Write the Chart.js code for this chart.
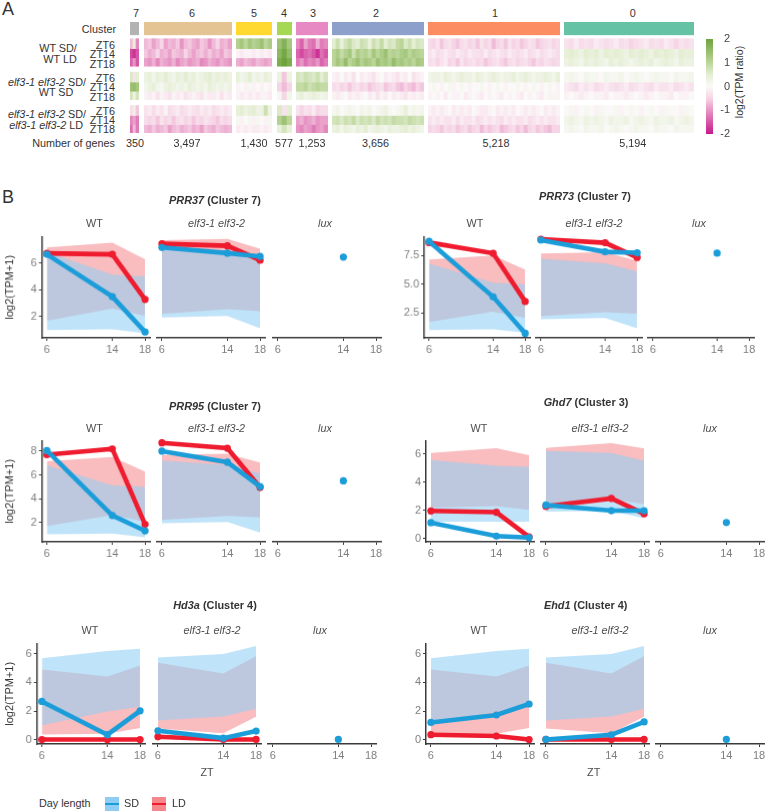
<!DOCTYPE html>
<html>
<head>
<meta charset="utf-8">
<script src="https://cdn.jsdelivr.net/npm/chart.js@4"></script>
<style>
html, body { margin: 0; padding: 0; background: #fff; }
body { position: relative; width: 766px; height: 812px; overflow: hidden; font-family: "Liberation Sans", Arial, sans-serif; }
canvas { position: absolute; }
.txt { position: absolute; white-space: nowrap; color: #333; line-height: 1; }
</style>
</head>
<body>
<script>
// ---- panel A, heatmap values, log2(TPM ratio)
// rows: WT ZT6/14/18, elf3 vs WT ZT6/14/18, elf3 SD vs LD ZT6/14/18
const cluster7 = [
  [-.7, .4, -1.1], [-1.6, -1.8, -1.5], [-1.4, -1, -1.5],
  [.6, -.3, .5], [1.4, 1.5, 1.3], [.7, .3, .7],
  [-.4, .3, -.6], [-1.1, -.9, -1.2], [-1.3, -.7, -1.2]
]
const cluster6 = [
  [-.7,-.6,-.9,-.7,-.5,-.9,-.7,-.8,-.6,-1,-.7,-.6,-.8,-.9,-.6,-.7,-1,-.7,-.5,-.8,-.7,-.9],
  [-.6,-.8,-.7,-.5,-.8,-.7,-.9,-.6,-.7,-.8,-.5,-.7,-.9,-.7,-.6,-.8,-.6,-.8,-.7,-.9,-.6,-.7],
  [-.9,-1,-.8,-1.1,-.8,-.9,-1,-.8,-1.1,-.9,-.8,-1,-.9,-.8,-1.1,-1,-.8,-.9,-1,-.8,-.9,-1],
  [.3,.4,.2,.4,.3,.5,.3,.2,.4,.3,.5,.3,.4,.2,.3,.4,.5,.3,.4,.3,.4,.3],
  [.2,.3,.4,.2,.1,.3,.4,.3,.2,.3,.2,.4,.3,.2,.3,.2,.4,.3,.2,.3,.2,.3],
  [-.1,-.2,-.1,-.3,-.1,-.2,-.3,-.1,-.2,-.1,-.3,-.2,-.1,-.2,-.3,-.1,-.2,-.2,-.1,-.3,-.1,-.2],
  [-.3,-.2,-.4,-.2,-.3,-.1,-.4,-.3,-.2,-.4,-.3,-.2,-.3,-.4,-.2,-.3,-.2,-.4,-.3,-.2,-.3,-.2],
  [-.4,-.5,-.4,-.6,-.3,-.5,-.4,-.6,-.4,-.3,-.5,-.4,-.6,-.4,-.5,-.3,-.4,-.5,-.6,-.4,-.5,-.4],
  [-.7,-.8,-.6,-.8,-.7,-.6,-.9,-.7,-.6,-.8,-.7,-.6,-.8,-.7,-.9,-.6,-.7,-.8,-.6,-.7,-.8,-.7]
]
const cluster5 = [
  [1.1,1.3,1,1.3,1.1,1.2,1.4,1,1.2],
  [-.1,-.2,-.1,-.1,-.2,-.1,-.2,-.1,-.2],
  [-.8,-.9,-.7,-.8,-.9,-.7,-.8,-.9,-.8],
  [.4,.2,.3,.5,.2,.3,.2,.4,.3],
  [-.1,0,-.1,.1,-.1,0,-.1,0,-.1],
  [-.1,-.2,-.1,-.2,-.1,-.2,-.1,-.1,-.2],
  [.4,.5,.3,.4,.5,.3,.3,.8,.3],
  [.1,-.1,0,.1,-.1,.1,0,-.1,.1],
  [-.2,-.1,-.2,-.1,-.2,-.2,-.1,-.2,-.1]
]
const cluster4 = [
  [1.4, 1.7, 1.3], [1.6, 1.9, 1.5], [1.8, 2, 1.8],
  [.3, -.6, .3], [-.5, -.7, -.5], [.1, -.5, .2],
  [.6, -.3, .5], [1.1, 1.4, 1], [.4, .7, .4]
]
const cluster3 = [
  [-1.1,-1.4,-.9,-1.2,-1.3,-.8,-1.2,-1.1],
  [-1.4,-1.6,-1.4,-1.3,-1.5,-1.8,-1.3,-1.5],
  [-1.2,-1,-1.3,-1.1,-1.2,-1,-1.4,-1.2],
  [.7,.6,.8,.7,.6,.8,.5,.7],
  [.9,.9,1,.8,.9,1,.9,.9],
  [.3,.4,.2,.3,.4,.3,.2,.3],
  [-.3,-.5,-.3,-.4,-.2,-.5,-.4,-.4],
  [-.9,-.8,-1,-.9,-.8,-1,-.9,-.9],
  [-1,-1.1,-.9,-1,-1.2,-1,-.9,-1.1]
]
const cluster2 = [
  [.5,.8,.4,.7,.9,.6,.5,.8,.7,.4,.8,.6,.9,.5,.7,.6,.9,1,.6,.8,.5,.7,.6],
  [1,1.2,.9,1.1,1.3,.8,1.2,1,1.1,.9,1.3,1,1.2,1.4,1,1.1,1,1.2,1.3,1,1.2,1.1,1],
  [1,1.3,1.1,1.5,1,1.2,1.4,1.1,1.3,1.2,1,1.4,1.2,1.3,1.1,1.5,1.2,1.3,1.1,1.2,1,1.3,1.2],
  [-.1,-.2,0,-.2,-.1,-.3,0,-.2,-.1,-.2,-.3,-.1,0,-.2,-.1,-.2,-.3,-.1,-.2,0,-.3,-.2,-.1],
  [-.4,-.3,-.5,-.4,-.6,-.4,-.3,-.5,-.4,-.6,-.5,-.4,-.3,-.6,-.5,-.4,-.6,-.7,-.5,-.6,-.7,-.5,-.6],
  [-.1,-.2,-.1,0,-.2,-.1,-.2,-.1,0,-.2,-.1,-.3,-.1,-.2,0,-.2,-.1,-.2,-.3,-.1,-.2,-.1,-.2],
  [.1,.2,0,.1,.2,.1,0,.2,.1,.2,0,.1,.2,.3,.1,0,.1,.2,.4,.1,.2,.1,.2],
  [.7,.8,.6,.8,.7,.9,.6,.8,.7,.8,.6,.9,.7,.8,.7,.9,.8,.8,.7,.9,.8,.7,.8],
  [.3,.4,.2,.4,.3,.2,.4,.3,.5,.2,.3,.4,.3,.2,.4,.3,.3,.4,.5,.3,.4,.3,.2]
]
const cluster1 = [
  [-.4,-.5,-.3,-.6,-.4,-.3,-.5,-.6,-.4,-.3,-.5,-.4,-.6,-.3,-.5,-.4,-.7,-.5,-.4,-.6,-.3,-.5,-.4,-.6,-.5,-.3,-.4,-.6,-.5,-.4,-.3,-.5,-.4],
  [-.3,-.2,-.4,-.3,-.2,-.3,-.4,-.2,-.3,-.4,-.2,-.3,-.3,-.4,-.2,-.4,-.3,-.2,-.3,-.4,-.2,-.3,-.4,-.3,-.2,-.4,-.3,-.2,-.4,-.3,-.2,-.3,-.4],
  [-.4,-.3,-.5,-.3,-.2,-.5,-.4,-.6,-.3,-.5,-.4,-.3,-.5,-.4,-.6,-.5,-.4,-.3,-.5,-.6,-.4,-.3,-.5,-.4,-.3,-.5,-.6,-.4,-.5,-.3,-.4,-.5,-.4],
  [.2,.3,.3,.2,.4,.3,.2,.3,.4,.3,.3,.2,.4,.3,.2,.3,.4,.3,.2,.3,.3,.4,.2,.3,.4,.3,.2,.3,.3,.4,.3,.2,.4],
  [0,.1,0,-.1,0,.1,-.1,0,.1,0,-.1,0,0,.1,0,-.1,0,.1,0,-.1,0,0,.1,0,-.1,0,.1,0,-.1,0,.1,0,-.1],
  [-.1,0,-.1,0,-.2,0,-.1,-.1,0,-.2,-.1,0,-.1,-.2,0,-.1,0,-.1,-.2,0,-.1,0,-.1,-.2,0,-.1,0,-.1,-.2,0,-.1,.1,-.1],
  [-.1,-.2,-.1,-.2,-.1,0,-.2,-.1,-.2,-.1,-.2,0,-.1,-.2,-.2,-.1,0,-.2,-.1,-.2,-.1,-.2,0,-.1,-.2,-.1,-.2,-.1,0,-.2,-.1,-.2,-.1],
  [-.3,-.2,-.3,-.2,-.3,-.3,-.2,-.4,-.2,-.3,-.3,-.2,-.4,-.3,-.2,-.3,-.2,-.3,-.4,-.2,-.3,-.2,-.3,-.3,-.2,-.4,-.3,-.2,-.3,-.2,-.3,-.3,-.2],
  [-.5,-.4,-.5,-.6,-.4,-.5,-.4,-.6,-.5,-.4,-.6,-.5,-.4,-.7,-.5,-.6,-.5,-.4,-.7,-.6,-.5,-.4,-.6,-.5,-.7,-.5,-.4,-.6,-.5,-.6,-.7,-.5,-.5]
]
const cluster0 = [
  [-.3,-.4,-.2,-.4,-.3,-.4,-.2,-.3,-.4,-.3,-.2,-.4,-.3,-.5,-.4,-.3,-.2,-.4,-.3,-.4,-.2,-.3,-.5,-.3,-.4,-.3],
  [.4,.5,.4,.3,.5,.4,.5,.3,.5,.4,.5,.4,.3,.5,.4,.5,.4,.3,.5,.4,.5,.4,.3,.5,.4,.4],
  [.3,.4,.3,.2,.4,.3,.4,.3,.2,.4,.3,.4,.3,.2,.3,.4,.3,.4,.2,.3,.4,.3,.2,.4,.3,.3],
  [.1,.2,.1,0,.2,.1,.1,0,.2,.1,.1,.2,0,.1,.2,.1,0,.1,.2,.1,.1,0,.2,.1,.1,.2],
  [-.2,-.3,-.4,-.2,-.3,-.2,-.4,-.3,-.2,-.3,-.4,-.3,-.2,-.4,-.3,-.2,-.3,-.4,-.2,-.3,-.3,-.2,-.4,-.3,-.2,-.3],
  [-.1,0,-.1,-.2,-.1,0,-.1,-.1,-.2,0,-.1,-.1,-.2,-.1,0,-.1,-.2,-.1,0,-.1,-.1,-.2,0,-.1,-.1,0],
  [0,.1,-.1,0,.1,0,-.1,.1,0,0,.1,-.1,0,.1,0,-.1,0,.1,0,-.1,.1,0,0,-.1,.1,0],
  [.2,.3,.2,.1,.3,.2,.3,.2,.1,.3,.2,.2,.3,.1,.2,.3,.2,.1,.3,.2,.2,.3,.1,.2,.3,.2],
  [.1,.2,.1,0,.2,.1,.1,.2,0,.1,.2,.1,0,.1,.2,.1,.1,0,.2,.1,.1,0,.2,.1,.1,.1]
]
const clusterColors = ['#b3b3b3', '#e5c494', '#ffd92f', '#a6d854', '#e78ac3', '#8da0cb', '#fc8d62', '#66c2a5']
const clusterNames = ['7', '6', '5', '4', '3', '2', '1', '0']
const geneCounts = ['350', '3,497', '1,430', '577', '1,253', '3,656', '5,218', '5,194']

// ---- panel B, shaded ribbons (same per cluster, x is ZT)
const ztPoints = [6, 14, 18]
const ztTicks = [6, 14, 18]
const luxZt = [14]

const c7_wt_ld_low = [1.7, 2.6, 2.05]
const c7_wt_ld_high = [7.15, 7.5, 6.27]
const c7_wt_sd_low = [1, 1.05, .75]
const c7_wt_sd_high = [6.8, 5.12, 4.98]
const c7_elf_ld_low = [2.15, 2.5, 2.36]
const c7_elf_ld_high = [7.5, 7.6, 6.88]
const c7_elf_sd_low = [1.9, 2, 1.12]
const c7_elf_sd_high = [7.05, 6.67, 5.97]

const c3_wt_ld_low = [2.2, 2.3, 2.03]
const c3_wt_ld_high = [6.07, 6.4, 5.91]
const c3_wt_sd_low = [1.2, 1.2, 1.2]
const c3_wt_sd_high = [5.57, 5.15, 5.08]
const c3_elf_ld_low = [2.2, 2.75, 2.35]
const c3_elf_ld_high = [6.26, 6.58, 6.21]
const c3_elf_sd_low = [1.85, 1.9, 1.4]
const c3_elf_sd_high = [6.05, 5.91, 5.36]

const c4_wt_ld_low = [.36, .4, .81]
const c4_wt_ld_high = [4.91, 4.41, 5.18]
const c4_wt_sd_low = [1, 1.97, 2.29]
const c4_wt_sd_high = [5.7, 6.2, 6.36]
const c4_elf_ld_low = [.75, .43, 1.56]
const c4_elf_ld_high = [5.23, 4.5, 5.68]
const c4_elf_sd_low = [1.3, 1.56, 2.1]
const c4_elf_sd_high = [5.6, 5.84, 6.38]

// ---- panel B, gene lines
const prr37_wt_ld = [6.7, 6.63, 3.28]
const prr37_wt_sd = [6.63, 3.48, .86]
const prr37_elf_ld = [7.24, 7.09, 6.05]
const prr37_elf_sd = [6.97, 6.56, 6.32]
const prr37_lux = [6.27]

const prr73_wt_ld = [8.64, 7.7, 3.49]
const prr73_wt_sd = [8.75, 3.89, .71]
const prr73_elf_ld = [8.72, 8.41, 7.16]
const prr73_elf_sd = [8.64, 7.64, 7.56]
const prr73_lux = [7.53]

const prr95_wt_ld = [7.7, 8.19, 1.84]
const prr95_wt_sd = [8.05, 2.58, 1.29]
const prr95_elf_ld = [8.49, 8.05, 4.82]
const prr95_elf_sd = [7.81, 6.9, 4.9]
const prr95_lux = [5.37]

const ghd7_wt_ld = [1.96, 1.87, .12]
const ghd7_wt_sd = [1.13, .18, .07]
const ghd7_elf_ld = [2.22, 2.77, 1.71]
const ghd7_elf_sd = [2.31, 1.92, 1.92]
const ghd7_lux = [1.1]

const hd3a_wt_ld = [0, 0, 0]
const hd3a_wt_sd = [2.67, .34, 2.01]
const hd3a_elf_ld = [.18, 0, 0]
const hd3a_elf_sd = [.59, .09, .57]
const hd3a_lux = [0]

const ehd1_wt_ld = [.34, .25, 0]
const ehd1_wt_sd = [1.2, 1.72, 2.49]
const ehd1_elf_ld = [0, 0, 0]
const ehd1_elf_sd = [0, .32, 1.2]
const ehd1_lux = [0]

const ticks_2468 = [2, 4, 6, 8]
const ticks_246 = [2, 4, 6]
const ticks_0246 = [0, 2, 4, 6]
const ticks_prr73 = [2.5, 5, 7.5]

const SD_COLOR = '#1b9dd9'
const LD_COLOR = '#ee1c2e'
const SD_RIBBON = 'rgba(148,208,243,0.6)'
const LD_RIBBON = '#f9bcbf'
const TICK_GREY = '#7f7f7f'
const FONT = '"Liberation Sans", Arial, sans-serif'
const TEXT_SIZE = 10.8
const TICK_SIZE = 11
const LINE_W = 4.6
const POINT_R = 3.6

Chart.defaults.font.family = FONT
Chart.defaults.animation = false

const label = (html, x, y, opts = {}) => {
    const el = document.createElement('div')
    el.className = 'txt'
    el.innerHTML = html
    el.style.left = x + 'px'
    el.style.top = y + 'px'
    el.style.fontSize = (opts.size || TEXT_SIZE) + 'px'
    el.style.color = opts.color || '#333'
    if (opts.bold) el.style.fontWeight = 'bold'
    const tx = opts.align == 'right' ? '-100%' : (opts.align == 'left' ? '0' : '-50%')
    el.style.transform = `translate(${tx}, -50%)` + (opts.rotate ? ` rotate(${opts.rotate}deg)` : '')
    document.body.appendChild(el)
}

const makeCanvas = (x, y, w, h) => {
    const canvas = document.createElement('canvas')
    canvas.width = w
    canvas.height = h
    canvas.style.left = x + 'px'
    canvas.style.top = y + 'px'
    canvas.style.width = w + 'px'
    canvas.style.height = h + 'px'
    document.body.appendChild(canvas)
    return canvas.getContext('2d')
}

// ---- heatmap colours
const heatStops = [
    [-2, [198, 25, 138]], [-1, [231, 149, 196]], [-.5, [246, 213, 230]], [0, [251, 249, 248]],
    [.5, [228, 238, 211]], [1, [188, 214, 154]], [2, [110, 163, 60]]
]
const heatColor = (v) => {
    for (let i = 1; i < heatStops.length; i++) {
        if (v <= heatStops[i][0]) {
            const [a, ca] = heatStops[i - 1]
            const [b, cb] = heatStops[i]
            const t = Math.max(0, (v - a) / (b - a))
            return `rgb(${ca.map((c, k) => Math.round(c + (cb[k] - c) * t)).join(',')})`
        }
    }
    return 'rgb(110,163,60)'
}

// row layout in units of one heat row
const BAND_H = 1.4, BAND_GAP = .43, GROUP_GAP = .65
const TOTAL_ROWS = BAND_H + BAND_GAP + 9 + 2 * GROUP_GAP

const heatCluster = (values, idx, left, colW) => {
    const cols = values[0].length
    const ctx = makeCanvas(left, 22, cols * colW, 111)
    const colLabels = values[0].map((v, i) => i)
    const datasets = [{
        data: colLabels.map(() => [0, BAND_H]),
        backgroundColor: clusterColors[idx]
    }]
    values.forEach((row, r) => {
        const group = Math.floor(r / 3)
        const start = BAND_H + BAND_GAP + group * (3 + GROUP_GAP) + (r - group * 3)
        // small overlap so no pale seam shows between rows of one group
        const end = start + (r % 3 == 2 ? 1 : 1.08)
        datasets.push({
            data: row.map(() => [start, end]),
            backgroundColor: row.map(heatColor)
        })
    })
    new Chart(ctx, {
        type: 'bar',
        data: { labels: colLabels, datasets: datasets },
        options: {
            responsive: false,
            layout: { padding: 0 },
            datasets: { bar: { grouped: false, barPercentage: 1, categoryPercentage: 1, borderWidth: 0 } },
            plugins: { legend: { display: false }, tooltip: { enabled: false } },
            scales: {
                x: { display: false },
                y: { display: false, reverse: true, min: 0, max: TOTAL_ROWS }
            }
        }
    })
}

heatCluster(cluster7, 0, 130, 3)
heatCluster(cluster6, 1, 144, 4)
heatCluster(cluster5, 2, 236, 4)
heatCluster(cluster4, 3, 277, 5)
heatCluster(cluster3, 4, 296, 4)
heatCluster(cluster2, 5, 332, 4)
heatCluster(cluster1, 6, 428, 4)
heatCluster(cluster0, 7, 564, 5)

// ---- colour bar
const colorbarTicks = [-2, -1, 0, 1, 2]
new Chart(makeCanvas(700, 31, 30, 114), {
    type: 'bar',
    data: {
        labels: ['scale'],
        datasets: [{
            data: [[-2, 2]],
            backgroundColor: (c) => {
                const area = c.chart.chartArea
                if (!area) return '#fff'
                const g = c.chart.ctx.createLinearGradient(0, area.bottom, 0, area.top)
                heatStops.forEach(s => g.addColorStop((s[0] + 2) / 4, `rgb(${s[1].join(',')})`))
                return g
            }
        }]
    },
    options: {
        responsive: false,
        layout: { padding: { left: 6, top: 8, bottom: 11 } },
        datasets: { bar: { barPercentage: 1, categoryPercentage: 1 } },
        plugins: { legend: { display: false }, tooltip: { enabled: false } },
        scales: {
            x: { display: false },
            y: {
                position: 'right', min: -2, max: 2,
                afterBuildTicks: (a) => { a.ticks = colorbarTicks.map(v => ({ value: v })) },
                afterFit: (s) => { s.width = 17 },
                grid: { display: false, drawTicks: false },
                border: { display: false },
                ticks: { color: '#444', font: { size: TICK_SIZE }, padding: 1, crossAlign: 'far' }
            }
        }
    }
})

// ---- panel B facets
const facet = (o) => {
    const pad = 8
    const hasY = !!o.showY
    const cLeft = hasY ? o.canvasLeft : o.axisLeft - pad
    const yw = hasY ? o.axisLeft - o.canvasLeft : 0
    const cTop = o.top - 6
    const areaW = o.axisW
    const w = (hasY ? yw : pad) + areaW + 10
    const h = (o.bottom - o.top) + 6 + 20
    const toPts = (xs, ys) => xs.map((x, i) => ({ x: x, y: ys[i] }))
    const datasets = []
    if (o.ribbon) {
        const r = o.ribbon
        const ribbon = (low, high, fillColor, order) => {
            const base = datasets.length
            datasets.push({ data: toPts(ztPoints, low), borderWidth: 0, pointRadius: 0, fill: false, order: order })
            datasets.push({ data: toPts(ztPoints, high), borderWidth: 0, pointRadius: 0, fill: base, backgroundColor: fillColor, order: order })
        }
        ribbon(r[0], r[1], LD_RIBBON, 4)
        ribbon(r[2], r[3], SD_RIBBON, 3)
        datasets.push({ data: toPts(ztPoints, o.ld), borderColor: LD_COLOR, backgroundColor: LD_COLOR, borderWidth: LINE_W, pointRadius: POINT_R, pointBorderWidth: 0, order: 2, clip: false })
        datasets.push({ data: toPts(ztPoints, o.sd), borderColor: SD_COLOR, backgroundColor: SD_COLOR, borderWidth: LINE_W, pointRadius: POINT_R, pointBorderWidth: 0, order: 1, clip: false })
    } else {
        datasets.push({ data: toPts(luxZt, o.lux), borderColor: SD_COLOR, backgroundColor: SD_COLOR, showLine: false, pointRadius: POINT_R, pointBorderWidth: 0, clip: false })
    }
    const axisLine = { display: true, color: '#3a3a3a', width: 1.5 }
    new Chart(makeCanvas(cLeft, cTop, w, h), {
        type: 'line',
        data: { datasets: datasets },
        options: {
            responsive: false,
            layout: { padding: { left: hasY ? 0 : pad, right: 10, top: 6, bottom: 0 } },
            elements: { line: { tension: 0 } },
            plugins: { legend: { display: false }, tooltip: { enabled: false } },
            scales: {
                x: {
                    type: 'linear', min: 5.4, max: 18.6,
                    afterBuildTicks: (a) => { a.ticks = ztTicks.map(v => ({ value: v })) },
                    afterFit: (s) => { s.height = 20 },
                    grid: { drawOnChartArea: false, tickLength: 3, tickColor: '#3a3a3a' },
                    border: axisLine,
                    ticks: { color: TICK_GREY, font: { size: TICK_SIZE }, padding: 2, autoSkip: false, maxRotation: 0 }
                },
                y: {
                    display: hasY, min: o.yMin, max: o.yMax,
                    afterBuildTicks: (a) => { a.ticks = o.yTicks.map(v => ({ value: v })) },
                    afterFit: (s) => { s.width = yw },
                    grid: { drawOnChartArea: false, tickLength: 3, tickColor: '#3a3a3a' },
                    border: axisLine,
                    title: { display: !!o.yTitle, text: 'log2(TPM+1)', color: '#333', font: { size: 11 }, padding: { top: 3, bottom: 2 } },
                    ticks: {
                        color: TICK_GREY, font: { size: TICK_SIZE }, padding: 2,
                        callback: (v) => o.yTicks.some(t => t % 1) ? v.toFixed(1) : v
                    }
                }
            }
        }
    })
}

const genePanel = (o) => {
    o.axisLefts.forEach((axisLeft, i) => {
        const base = {
            axisLeft: axisLeft, axisW: o.axisW, top: o.top, bottom: o.bottom,
            yMin: o.yMin, yMax: o.yMax, yTicks: o.yTicks
        }
        if (i == 0) facet({ ...base, showY: true, yTitle: o.yTitle, canvasLeft: o.yTitle ? 0 : axisLeft - 36, ribbon: o.wtRibbon, ld: o.wtLd, sd: o.wtSd })
        if (i == 1) facet({ ...base, ribbon: o.elfRibbon, ld: o.elfLd, sd: o.elfSd })
        if (i == 2) facet({ ...base, lux: o.lux })
    })
    label(o.title, o.titleX, o.titleY, { size: 10.9, bold: true })
    label('WT', o.facetX[0], o.facetY, { color: '#4d4d4d' })
    label('<i>elf3-1 elf3-2</i>', o.facetX[1], o.facetY, { color: '#4d4d4d' })
    label('<i>lux</i>', o.facetX[2], o.facetY, { color: '#4d4d4d' })
}

const ribbon7wt = [c7_wt_ld_low, c7_wt_ld_high, c7_wt_sd_low, c7_wt_sd_high]
const ribbon7elf = [c7_elf_ld_low, c7_elf_ld_high, c7_elf_sd_low, c7_elf_sd_high]
const ribbon3wt = [c3_wt_ld_low, c3_wt_ld_high, c3_wt_sd_low, c3_wt_sd_high]
const ribbon3elf = [c3_elf_ld_low, c3_elf_ld_high, c3_elf_sd_low, c3_elf_sd_high]
const ribbon4wt = [c4_wt_ld_low, c4_wt_ld_high, c4_wt_sd_low, c4_wt_sd_high]
const ribbon4elf = [c4_elf_ld_low, c4_elf_ld_high, c4_elf_sd_low, c4_elf_sd_high]

genePanel({
    title: '<i>PRR37</i> (Cluster 7)', titleX: 215, titleY: 199.5, facetX: [94.5, 216.5, 325], facetY: 223,
    axisLefts: [41.7, 157.3, 272.7], axisW: 108, top: 234.3, bottom: 337.7, yMin: .42, yMax: 7.94, yTicks: ticks_246, yTitle: true,
    wtRibbon: ribbon7wt, elfRibbon: ribbon7elf, wtLd: prr37_wt_ld, wtSd: prr37_wt_sd, elfLd: prr37_elf_ld, elfSd: prr37_elf_sd, lux: prr37_lux
})
genePanel({
    title: '<i>PRR73</i> (Cluster 7)', titleX: 585, titleY: 196, facetX: [475, 594, 699], facetY: 223,
    axisLefts: [424, 536.3, 648], axisW: 105.6, top: 234.3, bottom: 337.7, yMin: .31, yMax: 9.15, yTicks: ticks_prr73,
    wtRibbon: ribbon7wt, elfRibbon: ribbon7elf, wtLd: prr73_wt_ld, wtSd: prr73_wt_sd, elfLd: prr73_elf_ld, elfSd: prr73_elf_sd, lux: prr73_lux
})
genePanel({
    title: '<i>PRR95</i> (Cluster 7)', titleX: 215, titleY: 405.7, facetX: [94.5, 216.5, 325], facetY: 427.7,
    axisLefts: [41.7, 157.3, 272.7], axisW: 108, top: 438.3, bottom: 542, yMin: .36, yMax: 8.88, yTicks: ticks_2468, yTitle: true,
    wtRibbon: ribbon7wt, elfRibbon: ribbon7elf, wtLd: prr95_wt_ld, wtSd: prr95_wt_sd, elfLd: prr95_elf_ld, elfSd: prr95_elf_sd, lux: prr95_lux
})
genePanel({
    title: '<i>Ghd7</i> (Cluster 3)', titleX: 586, titleY: 402.3, facetX: [479, 600, 710], facetY: 427.7,
    axisLefts: [425.7, 541.3, 656.3], axisW: 108, top: 438.3, bottom: 541.7, yMin: -.23, yMax: 6.93, yTicks: ticks_0246,
    wtRibbon: ribbon3wt, elfRibbon: ribbon3elf, wtLd: ghd7_wt_ld, wtSd: ghd7_wt_sd, elfLd: ghd7_elf_ld, elfSd: ghd7_elf_sd, lux: ghd7_lux
})
genePanel({
    title: '<i>Hd3a</i> (Cluster 4)', titleX: 215, titleY: 604.7, facetX: [90, 212, 320], facetY: 630,
    axisLefts: [36.7, 152.7, 267.7], axisW: 108, top: 640.7, bottom: 744.3, yMin: -.31, yMax: 6.72, yTicks: ticks_0246, yTitle: true,
    wtRibbon: ribbon4wt, elfRibbon: ribbon4elf, wtLd: hd3a_wt_ld, wtSd: hd3a_wt_sd, elfLd: hd3a_elf_ld, elfSd: hd3a_elf_sd, lux: hd3a_lux
})
genePanel({
    title: '<i>Ehd1</i> (Cluster 4)', titleX: 585.7, titleY: 604.7, facetX: [479, 600, 710], facetY: 630,
    axisLefts: [425.7, 541.3, 656.3], axisW: 108, top: 640.7, bottom: 744.3, yMin: -.31, yMax: 6.72, yTicks: ticks_0246,
    wtRibbon: ribbon4wt, elfRibbon: ribbon4elf, wtLd: ehd1_wt_ld, wtSd: ehd1_wt_sd, elfLd: ehd1_elf_ld, elfSd: ehd1_elf_sd, lux: ehd1_lux
})

// ---- texts of panel A
label('A', 2, 9, { size: 18, align: 'left' })
label('B', 2, 197, { size: 18, align: 'left' })
const clusterLabelX = [136, 192, 254, 284, 313, 376, 495, 632.7]
const geneCountX = [135, 187, 254, 284, 312, 375.5, 496, 632.7]
clusterNames.forEach((n, i) => label(n, clusterLabelX[i], 12.5))
geneCounts.forEach((n, i) => label(n, geneCountX[i], 143))
label('Cluster', 116, 29, { align: 'right' })
label('Number of genes', 115, 143, { align: 'right' })
label('WT SD/', 58, 48)
label('WT LD', 60, 59)
label('<i>elf3-1 elf3-2</i> SD/', 86, 82, { align: 'right' })
label('WT SD', 56, 92)
label('<i>elf3-1 elf3-2</i> SD/', 86, 114, { align: 'right' })
label('<i>elf3-1 elf3-2</i> LD', 83, 125, { align: 'right' })
const ztRowLabels = ['ZT6', 'ZT14', 'ZT18']
const ztRowY = [44.7, 53.7, 63.5, 78, 87.3, 96.7, 111, 120, 129.3]
ztRowY.forEach((y, i) => label(ztRowLabels[i % 3], 115, y, { align: 'right' }))
label('log2(TPM ratio)', 739, 82, { rotate: -90, size: 10.5 })

// ---- bottom texts and legend
label('ZT', 207, 771.7, { color: '#4d4d4d' })
label('ZT', 593.7, 771.7, { color: '#4d4d4d' })
label('Day length', 39, 802.5, { align: 'left' })
label('SD', 124, 803, { align: 'left' })
label('LD', 172, 803, { align: 'left' })
const legendKey = (x, fill, line) => {
    const box = document.createElement('div')
    box.style.cssText = `position:absolute;left:${x}px;top:797px;width:14px;height:14px;background:${fill}`
    const bar = document.createElement('div')
    bar.style.cssText = `position:absolute;left:0;top:6px;width:14px;height:1.6px;background:${line}`
    box.appendChild(bar)
    document.body.appendChild(box)
}
legendKey(105, '#8fcdf4', SD_COLOR)
legendKey(152, '#f5868c', LD_COLOR)
</script>
</body>
</html>
